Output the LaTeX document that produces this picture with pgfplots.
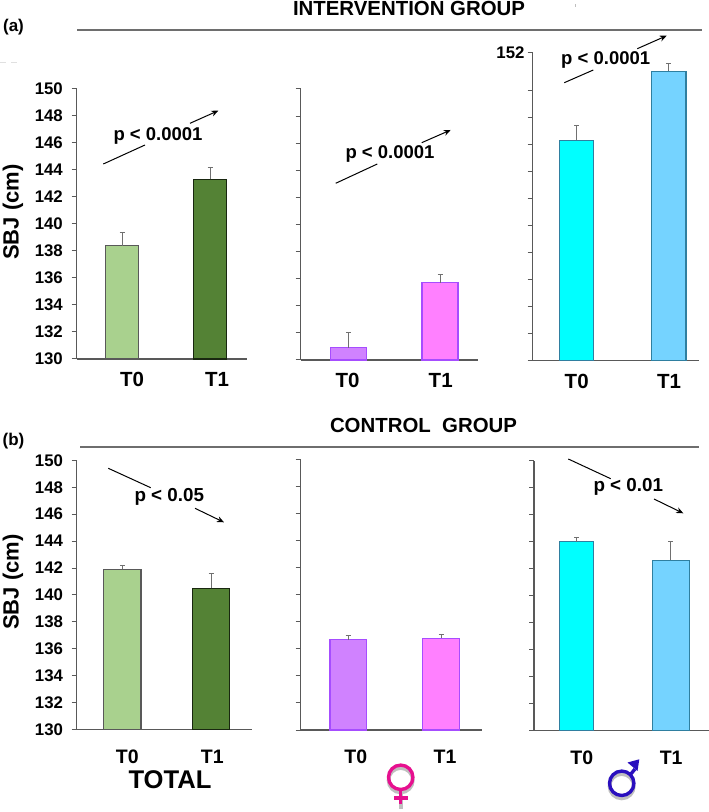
\documentclass[border=0pt]{standalone}
\usepackage{fontspec}
\setmainfont{Liberation Sans}
\usepackage{pgfplots}
\pgfplotsset{compat=1.18}
\usetikzlibrary{arrows.meta}

\newcommand{\bsize}[1]{\fontsize{#1}{#1}\selectfont\bfseries}

\definecolor{axgray}{HTML}{595959}
\definecolor{rulegray}{HTML}{6E6E6E}
\definecolor{errgray}{HTML}{707070}
\definecolor{totA}{HTML}{A9D18E}
\definecolor{totB}{HTML}{548235}
\definecolor{femA}{HTML}{D082FF}
\definecolor{femB}{HTML}{FF80FF}
\definecolor{femLine}{HTML}{A64DFF}
\definecolor{malA}{HTML}{00FFFF}
\definecolor{malB}{HTML}{75D3FF}
\definecolor{malLine}{HTML}{2F7FA0}
\definecolor{fsym}{HTML}{E6108F}
\definecolor{msym}{HTML}{2A0FBE}

\pgfplotsset{
  panel/.style={
    scale only axis,
    anchor=south west,
    ymin=130,
    axis lines*=left,
    axis line style={draw=axgray,line width=1.2pt,-},
    y tick style={draw=axgray,line width=1pt},
    x tick style={draw=none},
    major tick length=5pt,
    tick align=outside,
    ytick={130,132,...,150},
    tick label style={font=\bsize{16.8}},
    /pgf/number format/assume math mode=true,
    /pgf/number format/1000 sep={},
    yticklabel style={inner sep=0pt,xshift=-8.5pt},
    xticklabel style={font=\bsize{20.5},inner sep=0pt,anchor=north,yshift=-7.5pt,text height=15pt,text depth=0pt},
    xticklabels={T0,T1},
    clip=false,
  },
  botlabels/.style={
    xticklabel style={font=\bsize{19.5},inner sep=0pt,anchor=north,yshift=-6.5pt,text height=14.5pt,text depth=0pt},
  },
  bar/.style 2 args={
    ybar,bar shift=0pt,bar width=#1pt,fill=#2,line width=1.2pt,
    error bars/y dir=plus,error bars/y explicit,
    error bars/error bar style={draw=errgray,line width=1pt},
    error bars/error mark options={rotate=90,mark size=2.5pt,draw=errgray,line width=0.8pt},
  },
}

\begin{document}
\begin{tikzpicture}[x=1pt,y=1pt]
\path[use as bounding box] (0,0) rectangle (709,812);

% intervention group, total
\begin{axis}[panel,at={(76.5pt,453pt)},width=170.5pt,height=270pt,ymax=150,
  xmin=-0.517,xmax=1.42,xtick={0.114,1.08}]
\addplot[bar={33.7}{totA},draw=axgray] coordinates {(0,138.4) +- (0,1.0)};
\addplot[bar={33.7}{totB},draw=black!70!totB] coordinates {(1,143.3) +- (0,0.9)};
\end{axis}

% intervention group, female
\begin{axis}[panel,at={(300.5pt,452pt)},width=177.5pt,height=271pt,ymax=150,
  xmin=-0.527,xmax=1.415,xtick={-0.011,1.007},yticklabels={}]
\addplot[bar={36}{femA},draw=femLine] coordinates {(0,130.9) +- (0,1.1)};
\addplot[bar={36}{femB},draw=femLine] coordinates {(1,135.7) +- (0,0.6)};
\end{axis}

% intervention group, male: the top tick is labelled 152 but sits off the scale
\begin{axis}[panel,at={(532.7pt,451.3pt)},width=166pt,height=308.4pt,ymax=152.8,
  xmin=-0.475,xmax=1.325,xtick={0.002,1.003},
  ytick={130,132,...,150,152.8},
  yticklabels={,,,,,,,,,,,152},
  yticklabel style={inner sep=0pt,xshift=5.5pt},
  ]
\addplot[bar={34.5}{malA},draw=malLine] coordinates {(0,146.3) +- (0,1.1)};
\addplot[bar={34.5}{malB},draw=malLine] coordinates {(1,151.4) +- (0,0.6)};
\end{axis}

% control group, total
\begin{axis}[panel,botlabels,at={(76.7pt,82.3pt)},width=175.3pt,height=269.4pt,ymax=150,
  xmin=-0.514,xmax=1.462,xtick={0.056,1.015}]
\addplot[bar={37.5}{totA},draw=axgray] coordinates {(0,141.9) +- (0,0.3)};
\addplot[bar={37.5}{totB},draw=black!70!totB] coordinates {(1,140.5) +- (0,1.1)};
\end{axis}

% control group, female
\begin{axis}[panel,botlabels,at={(300.5pt,82pt)},width=181.8pt,height=270pt,ymax=150,
  xmin=-0.514,xmax=1.445,xtick={0.081,1.043},yticklabels={}]
\addplot[bar={36.5}{femA},draw=femLine] coordinates {(0,136.7) +- (0,0.3)};
\addplot[bar={37.4}{femB},draw=femLine] coordinates {(1,136.8) +- (0,0.3)};
\end{axis}

% control group, male
\begin{axis}[panel,botlabels,at={(534pt,81.7pt)},width=175pt,height=269.6pt,ymax=150,
  xmin=-0.453,xmax=1.406,xtick={0.055,1.004},yticklabels={}]
\addplot[bar={34.5}{malA},draw=malLine] coordinates {(0,144.0) +- (0,0.3)};
\addplot[bar={36.7}{malB},draw=malLine] coordinates {(1,142.6) +- (0,1.4)};
\end{axis}

% headers
\draw[rulegray,line width=1.4pt] (77,782) -- (702,782);
\draw[rulegray,line width=1.4pt] (80,365) -- (699,365);
\node[font=\bsize{20.4},inner sep=0pt] at (409,804) {INTERVENTION GROUP};
\node[font=\bsize{20.4},inner sep=0pt] at (423.5,387) {CONTROL\ \ GROUP};
\node[font=\bsize{17},inner sep=0pt] at (13.5,785) {(a)};
\node[font=\bsize{17},inner sep=0pt] at (13.5,371) {(b)};

% y titles and group name
\node[font=\bsize{22},inner sep=0pt,rotate=90] at (13,600) {SBJ (cm)};
\node[font=\bsize{22},inner sep=0pt,rotate=90] at (13,230) {SBJ (cm)};
\node[font=\bsize{25.6},inner sep=0pt] at (170,32) {TOTAL};

% p values with their trend arrows
\tikzset{trend/.style={black,line width=1pt},
  trendarrow/.style={trend,-{Stealth[length=7pt,width=6pt]}}}
\node[font=\bsize{18.5},inner sep=0pt] at (158,676.3) {p < 0.0001};
\draw[trend] (103.3,648) -- (145,667);
\draw[trendarrow] (190,688.7) -- (218.3,701.3);
\node[font=\bsize{18.5},inner sep=0pt] at (390,658) {p < 0.0001};
\draw[trend] (335.7,628.7) -- (377.3,648);
\draw[trendarrow] (421.7,669.3) -- (450.7,682);
\node[font=\bsize{18.5},inner sep=0pt] at (605.7,752) {p < 0.0001};
\draw[trend] (564.3,729.3) -- (593.3,742);
\draw[trendarrow] (637.3,763.3) -- (666.7,776.3);
\node[font=\bsize{18.8},inner sep=0pt] at (169.3,315.3) {p < 0.05};
\draw[trend] (108.3,343.7) -- (150.7,324.3);
\draw[trendarrow] (195,303.7) -- (224,289.7);
\node[font=\bsize{18.8},inner sep=0pt] at (628.3,324.7) {p < 0.01};
\draw[trend] (568.3,353) -- (610.7,333.3);
\draw[trendarrow] (654,313) -- (683.3,298.7);

% female symbol, with its soft shadow
\begin{scope}[shift={(0,-3)},black!25,line width=3.6pt]
\draw (400.7,34.7) circle (12.2);
\draw (400.7,22) -- (400.7,6);
\end{scope}
\begin{scope}[fsym,line width=3.4pt]
\draw (400.7,34.7) circle (12.2);
\draw (400.7,22.5) -- (400.7,8);
\draw (394,14) -- (407.5,14);
\end{scope}

% male symbol, with its soft shadow
\begin{scope}[shift={(0,-3)},black!25,line width=3.6pt]
\draw (621.7,28.7) circle (12.2);
\end{scope}
\begin{scope}[msym,line width=3.4pt]
\draw (621.7,28.7) circle (12.2);
\draw (630.5,37.5) -- (635,43);
\fill (639.3,52.7) -- (627.5,49.5) -- (637.5,41) -- cycle;
\end{scope}

% stray scan marks
\draw[black!12,line width=0.7pt] (0,750) -- (6,750) (11,750) -- (17,750);
\draw[black!25,line width=0.7pt] (575,805) -- (575,808);
\end{tikzpicture}
\end{document}
